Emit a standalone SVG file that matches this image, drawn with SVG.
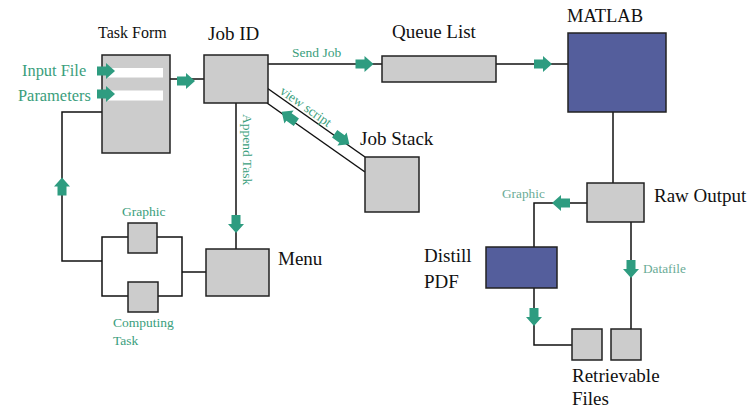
<svg xmlns="http://www.w3.org/2000/svg" xmlns:xlink="http://www.w3.org/1999/xlink" width="750" height="410" viewBox="0 0 750 410">
<style>
.box{fill:#cccccc;stroke:#222;stroke-width:1.5}
.blue{fill:#545e9c;stroke:#222;stroke-width:1.5}
.ln{fill:none;stroke:#111;stroke-width:1.5}
.t{font-family:"Liberation Serif","Times New Roman",serif;fill:#111;font-size:19px}
.g{font-family:"Liberation Serif","Times New Roman",serif;fill:#3a9e7c;font-size:13.5px}
.gl{font-family:"Liberation Serif","Times New Roman",serif;fill:#6aab96;font-size:13.3px}
.arr{fill:#2e9c80}
</style>
<defs>
<path id="arr" d="M-9,-4.5 H0 V-8 L9,0 L0,8 V4.5 H-9 Z"/>
</defs>
<rect width="750" height="410" fill="#fff"/>
<g id="connectors">
<line class="ln" x1="170" y1="79" x2="204" y2="79"/>
<polyline class="ln" points="102,112 62,112 62,261 102,261"/>
<polyline class="ln" points="128,237 102,237 102,296 128,296"/>
<polyline class="ln" points="157,237 182,237 182,296 158,296"/>
<line class="ln" x1="182" y1="272" x2="206" y2="272"/>
<line class="ln" x1="236" y1="103" x2="236" y2="249"/>
<line class="ln" x1="268" y1="64" x2="382" y2="64"/>
<line class="ln" x1="496" y1="64" x2="568" y2="64"/>
<line class="ln" x1="267" y1="88" x2="365" y2="157"/>
<line class="ln" x1="267" y1="103" x2="365" y2="172"/>
<line class="ln" x1="613" y1="112" x2="613" y2="183"/>
<polyline class="ln" points="587,203 534,203 534,247"/>
<polyline class="ln" points="534,288 534,345 572,345"/>
<line class="ln" x1="631" y1="222" x2="631" y2="329"/>
<g class="arr">
<use xlink:href="#arr" href="#arr" transform="translate(186,81)"/>
<use xlink:href="#arr" href="#arr" transform="translate(364.5,64)"/>
<use xlink:href="#arr" href="#arr" transform="translate(543,64)"/>
<use xlink:href="#arr" href="#arr" transform="translate(561,203) rotate(180)"/>
<use xlink:href="#arr" href="#arr" transform="translate(236,224) rotate(90)"/>
<use xlink:href="#arr" href="#arr" transform="translate(62,186.5) rotate(-90)"/>
<use xlink:href="#arr" href="#arr" transform="translate(534,317) rotate(90)"/>
<use xlink:href="#arr" href="#arr" transform="translate(631,269) rotate(90)"/>
<use xlink:href="#arr" href="#arr" transform="translate(342,139) rotate(35.4)"/>
<use xlink:href="#arr" href="#arr" transform="translate(289,117) rotate(215.4)"/>
</g>
<text class="g" x="292" y="57">Send Job</text>
<text class="g" transform="translate(243,114) rotate(90)">Append Task</text>
<text class="g" transform="translate(279,93) rotate(35.4)">view script</text>
<text class="gl" x="502" y="198">Graphic</text>
<text class="gl" x="643" y="273">Datafile</text>
</g>
<g id="taskform">
<rect class="box" x="102" y="55" width="68" height="98"/>
<rect x="107" y="68" width="56" height="9.5" fill="#fff"/>
<rect x="107" y="90.5" width="56" height="10" fill="#fff"/>
<text class="t" x="98" y="38" style="font-size:16px">Task Form</text>
<text class="g" x="22" y="76" style="font-size:16.4px">Input File</text>
<text class="g" x="18" y="101" style="font-size:16.4px">Parameters</text>
<use class="arr" xlink:href="#arr" href="#arr" transform="translate(106,71)"/>
<use class="arr" xlink:href="#arr" href="#arr" transform="translate(106,94)"/>
</g>
<g id="jobid">
<rect class="box" x="204" y="55" width="64" height="48"/>
<text class="t" x="208" y="40">Job ID</text>
</g>
<g id="queuelist">
<rect class="box" x="382" y="56" width="114" height="26"/>
<text class="t" x="392" y="38">Queue List</text>
</g>
<g id="matlab">
<rect class="blue" x="568" y="33" width="98" height="79"/>
<text class="t" x="567" y="22" style="font-size:18.5px">MATLAB</text>
</g>
<g id="jobstack">
<rect class="box" x="365" y="157" width="54" height="55"/>
<text class="t" x="360" y="145">Job Stack</text>
</g>
<g id="graphic">
<rect class="box" x="128" y="223" width="29" height="30"/>
<text class="g" x="122" y="216">Graphic</text>
</g>
<g id="computing">
<rect class="box" x="128" y="282" width="30" height="30"/>
<text class="g" x="113" y="327">Computing</text>
<text class="g" x="113" y="345">Task</text>
</g>
<g id="menu">
<rect class="box" x="206" y="249" width="63" height="47"/>
<text class="t" x="278" y="265">Menu</text>
</g>
<g id="rawoutput">
<rect class="box" x="587" y="183" width="57" height="39"/>
<text class="t" x="654" y="202">Raw Output</text>
</g>
<g id="distill">
<rect class="blue" x="486" y="247" width="71" height="41"/>
<text class="t" x="424" y="262">Distill</text>
<text class="t" x="424" y="288">PDF</text>
</g>
<g id="retrievable">
<rect class="box" x="572" y="329" width="30" height="31"/>
<rect class="box" x="611" y="329" width="30" height="31"/>
<text class="t" x="572" y="382">Retrievable</text>
<text class="t" x="572" y="405">Files</text>
</g>
</svg>
